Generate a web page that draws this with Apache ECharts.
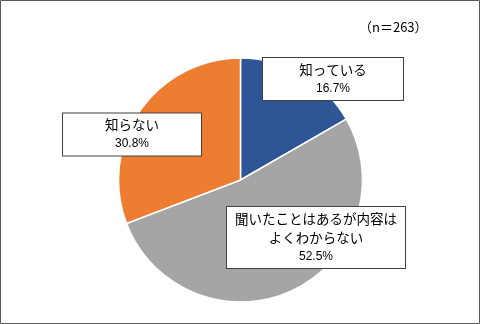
<!DOCTYPE html>
<html><head><meta charset="utf-8">
<script src="https://cdn.jsdelivr.net/npm/echarts@6/dist/echarts.min.js"></script>
<style>html,body{margin:0;padding:0;background:#fff}#c{width:480px;height:324px}</style>
</head><body><div id="c"></div>
<script>
const categories = ['知っている', '聞いたことはあるが内容は\nよくわからない', '知らない'];
const values = [16.7, 52.5, 30.8];
const colors = ['#2F5597', '#A5A5A5', '#ED7D31'];
const sampleNote = '（n＝263）';
// label box centres (px)
const labelPos = [[333, 79], [316, 237.5], [132, 134.5]];
const labelWidths = [130, 168, 128];

const chart = echarts.init(document.getElementById('c'), null, {renderer: 'canvas'});
const fontJP = '"Noto Sans CJK JP", "Noto Sans", sans-serif';
chart.setOption({
  animation: false,
  title: {
    text: sampleNote, left: 354, top: 16,
    textStyle: {fontSize: 13, fontWeight: 'normal', color: '#000', fontFamily: fontJP}
  },
  graphic: [{
    type: 'rect', shape: {x: 0.5, y: 0.5, width: 479, height: 323},
    style: {fill: 'none', stroke: '#595959', lineWidth: 1}, silent: true
  }],
  series: [{
    type: 'pie',
    center: [240.5, 180],
    radius: 122,
    startAngle: 90,
    clockwise: true,
    itemStyle: {borderColor: '#fff', borderWidth: 1.5},
    labelLine: {show: false},
    label: {
      show: true,
      position: 'inside',
      formatter: p => '{n|' + p.name.split('\n').join('}\n{n|') + '}\n{v|' + p.value.toFixed(1) + '%}',
      backgroundColor: '#fff',
      borderColor: '#404040',
      borderWidth: 1,
      padding: [2, 5],
      align: 'center',
      rich: {
        n: {fontSize: 13.5, lineHeight: 19, color: '#000', fontFamily: fontJP, align: 'center'},
        v: {fontSize: 12, lineHeight: 19, color: '#000', fontFamily: '"Liberation Sans", Arial, sans-serif', align: 'center'}
      }
    },
    labelLayout: p => ({x: labelPos[p.dataIndex][0], y: labelPos[p.dataIndex][1], align: 'center', verticalAlign: 'middle'}),
    data: categories.map((c, i) => ({
      name: c, value: values[i],
      itemStyle: {color: colors[i]},
      label: {width: labelWidths[i]}
    }))
  }]
});
</script></body></html>
